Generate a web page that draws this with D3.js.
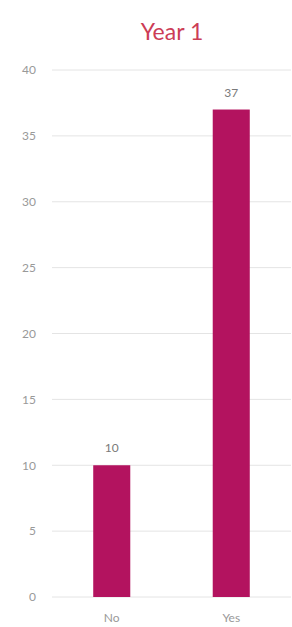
<!DOCTYPE html>
<html>
<head>
<meta charset="utf-8">
<script src="https://cdn.jsdelivr.net/npm/d3@7"></script>
<style>
  body { margin: 0; background: #fff; }
  text { font-family: "Lato", "Open Sans", sans-serif; }
</style>
</head>
<body>
<div id="chart"></div>
<script>
// data
var categories = ["No", "Yes"];
var values = [10, 37];
var yTicks = [0, 5, 10, 15, 20, 25, 30, 35, 40];
var title = "Year 1";

var width = 292, height = 627;
var margin = {top: 70, right: 1, bottom: 30, left: 52};

var svg = d3.select("#chart").append("svg")
  .attr("width", width)
  .attr("height", height);

var x = d3.scaleBand()
  .domain(categories)
  .range([margin.left, width - margin.right])
  .paddingInner(0.69)
  .paddingOuter(0.345);

var y = d3.scaleLinear()
  .domain([0, 40])
  .range([height - margin.bottom, margin.top]);

// title
svg.append("text")
  .attr("x", 172)
  .attr("y", 40)
  .attr("text-anchor", "middle")
  .style("font-size", "23px")
  .style("fill", "#cc3d56")
  .text(title);

// gridlines
svg.append("g").selectAll("line")
  .data(yTicks)
  .enter().append("line")
  .attr("x1", margin.left)
  .attr("x2", width - margin.right)
  .attr("y1", d => y(d))
  .attr("y2", d => y(d))
  .style("stroke", "#e4e4e4")
  .style("stroke-width", 1);

// y axis labels
var yAxis = svg.append("g")
  .attr("transform", "translate(" + (margin.left - 16) + ",0)")
  .call(d3.axisLeft(y).tickValues(yTicks).tickSize(0).tickPadding(0));
yAxis.select(".domain").remove();
yAxis.selectAll("text")
  .style("font-size", "12px")
  .style("fill", "#999")
  .style("font-family", "Lato, 'Open Sans', sans-serif");

// bars
svg.append("g").selectAll("rect")
  .data(values)
  .enter().append("rect")
  .attr("x", (d, i) => x(categories[i]))
  .attr("y", d => y(d))
  .attr("width", x.bandwidth())
  .attr("height", d => y(0) - y(d))
  .style("fill", "#b3135f");

// value labels
svg.append("g").selectAll("text")
  .data(values)
  .enter().append("text")
  .attr("x", (d, i) => x(categories[i]) + x.bandwidth() / 2)
  .attr("y", d => y(d) - 13)
  .attr("text-anchor", "middle")
  .style("font-size", "12px")
  .style("fill", "#7a7a7a")
  .text(d => d);

// x axis labels
var xAxis = svg.append("g")
  .attr("transform", "translate(0," + (y(0) + 16) + ")")
  .call(d3.axisBottom(x).tickSize(0).tickPadding(0));
xAxis.select(".domain").remove();
xAxis.selectAll("text")
  .style("font-size", "12px")
  .style("fill", "#999")
  .style("font-family", "Lato, 'Open Sans', sans-serif");
</script>
</body>
</html>
